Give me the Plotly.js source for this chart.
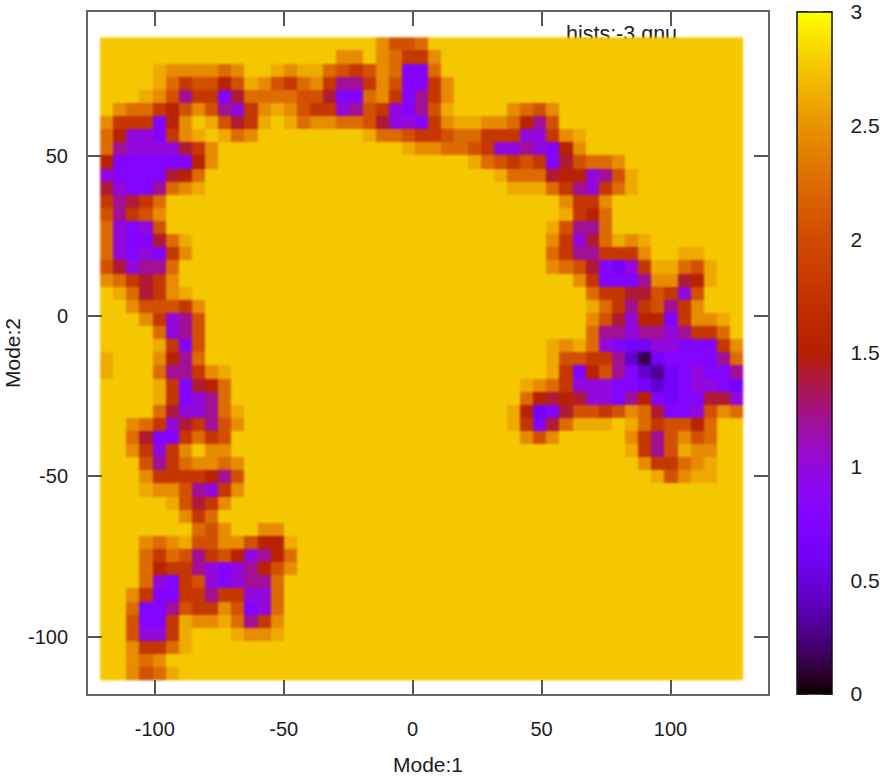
<!DOCTYPE html>
<html><head><meta charset="utf-8">
<script src="https://cdn.plot.ly/plotly-3.0.1.min.js"></script>
<style>html,body{margin:0;padding:0;background:#fff}#c{width:886px;height:778px}
.heatmaplayer image{filter:blur(0.8px)}</style>
</head><body><div id="c"></div>
<script>
// Encoded reading of the map: each char is a free-energy level (see levelValues).
const levelValues = {'.':2.76,'1':2.62,'2':2.45,'3':2.25,'4':2.05,'5':1.8,'6':1.55,'7':1.4,'8':1.2,'9':1.0,'a':0.8,'b':0.65,'c':0.45,'d':0.3,'e':0.15};
const gridSize = 49;
const xExtent = [-121.2, 128.3];
const yExtent = [-113.6, 86.9];
// top row first: [first column, levels...]
const rowSegments = [
 [[21,"2443"]],
 [[18,"22"],[21,"23552"]],
 [[4,"1222232"],[13,"1211345423aa3"]],
 [[4,"1354464124532588524aa52"]],
 [[3,"124855a73333447aa325a852"]],
 [[1,"2335642489521245598459a841"],[31,"2342"]],
 [[0,"2555a62.14751.132233479"],[23,"9a5211223684"]],
 [[0,"3699a521.132"],[20,"13345543355599521"]],
 [[0,"389999752"],[23,"12233459989a62"]],
 [[0,"6aaaaaa62"],[28,"134545a74332"]],
 [[0,"9aaaa763"],[30,"13337669841"]],
 [[0,"79aa8321"],[31,"1113589531"]],
 [[0,"58753"],[35,"2552"]],
 [[0,"48542"],[35,"1563"]],
 [[0,"39a94"],[34,"14883"]],
 [[0,"39aa731"],[34,"25973121"]],
 [[0,"39a9a52"],[34,"35885552"],[44,"11"]],
 [[0,"479883"],[34,"2347ab9511341"]],
 [[0,"235752"],[36,"25aaa822761"]],
 [[1,"137521"],[37,"355774594"]],
 [[2,"244452"],[37,"135854852"]],
 [[3,"25984"],[37,"247966a5221"]],
 [[4,"3984"],[37,"38898898553"]],
 [[4,"15a4"],[34,"12139abb99aaa52"]],
 [[0,"1"],[4,"2683"],[34,"144558cebaaaa83"]],
 [[0,"1"],[4,"388521"],[34,"15a648acdba9aa8"]],
 [[4,"15a763"],[32,"1235999aabcba99ab"]],
 [[4,"15a983"],[32,"3676799a86abaa779"]],
 [[4,"3799831"],[31,"16ba74454237aa9423"]],
 [[2,"235975842"],[31,"15a73111"],[40,"1354463"]],
 [[2,"37aa5354"],[32,"242"],[40,"2584243"]],
 [[2,"25952.22"],[40,"1584122"]],
 [[3,"48532232"],[41,"255321"]],
 [[3,"25555684"],[42,"14211"]],
 [[3,"12248952"]],
 [[5,"14752"]],
 [[6,"253"]],
 [[7,"342"],[12,"22"]],
 [[3,"232144224661"]],
 [[3,"353485469863"]],
 [[3,"365589a98642"]],
 [[3,"39a549a9883"]],
 [[2,"25aa55855993"]],
 [[2,"3aa845524a93"]],
 [[2,"4aa512213852"]],
 [[2,"49951"],[10,"1221"]],
 [[2,"25531"]],
 [[2,"232"]],
 [[2,"2431"]]
];
const xTicks = [-100,-50,0,50,100];
const yTicks = [-100,-50,0,50];
const cbTicks = [0,0.5,1,1.5,2,2.5,3];
const fileLabel = "hists:-3.gnu";

// gnuplot default pm3d palette (rgbformulae 7,5,15)
const colorscale = [];
for (let i=0;i<=64;i++){const t=i/64;
 const r=Math.sqrt(t),g=t*t*t,b=Math.max(0,Math.sin(2*Math.PI*t));
 colorscale.push([t,`rgb(${Math.round(r*255)},${Math.round(g*255)},${Math.round(b*255)})`]);}

const z = rowSegments.map(segs=>{
 const row=new Array(gridSize).fill(levelValues['.']);
 segs.forEach(([c,s])=>{[...s].forEach((ch,i)=>{row[c+i]=levelValues[ch];});});
 return row;
}).reverse();
const dx=(xExtent[1]-xExtent[0])/gridSize, dy=(yExtent[1]-yExtent[0])/gridSize;

const FONT="'Liberation Sans', sans-serif", TXT="#1c1c24";
const xRange=[-125.9,137.8], yRange=[-117.9,94.8];
const traces=[
 {type:'scatter',mode:'text',x:[81],y:[87.5],text:[fileLabel],textposition:'middle center',
  textfont:{family:FONT,size:21.5,color:'#223'},showlegend:false,hoverinfo:'skip',xaxis:'x',yaxis:'y'},
 {type:'heatmap',z:z,x0:xExtent[0]+dx/2,dx:dx,y0:yExtent[0]+dy/2,dy:dy,xaxis:'x2',yaxis:'y2',
  zmin:0,zmax:3,colorscale:colorscale,zsmooth:false,
  colorbar:{x:1.0433,xanchor:'left',xpad:0,y:0.5,yanchor:'middle',len:1,ypad:0,thickness:35,
   outlinecolor:'#111',outlinewidth:1.5,tickmode:'array',tickvals:cbTicks,ticktext:cbTicks.map(String),
   ticks:'outside',ticklen:14,tickcolor:'rgba(0,0,0,0)',tickwidth:1,
   tickfont:{family:FONT,size:21,color:TXT}}}
];
const axisBase={showgrid:false,zeroline:false,ticks:'inside',ticklen:14,tickwidth:2,tickcolor:'#555',
 showline:true,linecolor:'#666',linewidth:2,mirror:'ticks',tickmode:'array',
 tickfont:{family:FONT,size:20,color:TXT}};
const cbLeft=1.0433, cbTick=10/680.5, cbWidth=35/680.5;
const shapes=[];
cbTicks.forEach(v=>{
 [[cbLeft,cbLeft+cbTick],[cbLeft+cbWidth-cbTick,cbLeft+cbWidth]].forEach(p=>shapes.push({type:'line',xref:'paper',yref:'paper',layer:'above',
  x0:p[0],x1:p[1],y0:v/3,y1:v/3,line:{color:'rgba(30,10,0,0.75)',width:2}}));
});
const layout={width:886,height:778,margin:{l:88,r:117.5,t:12,b:84,autoexpand:false},
 paper_bgcolor:'#fff',plot_bgcolor:'#fff',showlegend:false,shapes:shapes,
 xaxis:{...axisBase,range:xRange,tickvals:xTicks,ticktext:xTicks.map(String),ticklabelstandoff:16,
  title:{text:'Mode:1',font:{family:FONT,size:21,color:TXT},standoff:18}},
 yaxis:{...axisBase,range:yRange,tickvals:yTicks,ticktext:yTicks.map(String),ticklabelstandoff:14,
  title:{text:'Mode:2',font:{family:FONT,size:21,color:TXT},standoff:2}},
 xaxis2:{overlaying:'x',range:xRange,visible:false,anchor:'y2'},
 yaxis2:{overlaying:'y',range:yRange,visible:false,anchor:'x2'}
};
Plotly.newPlot('c',traces,layout,{displayModeBar:false,staticPlot:true});
</script></body></html>
